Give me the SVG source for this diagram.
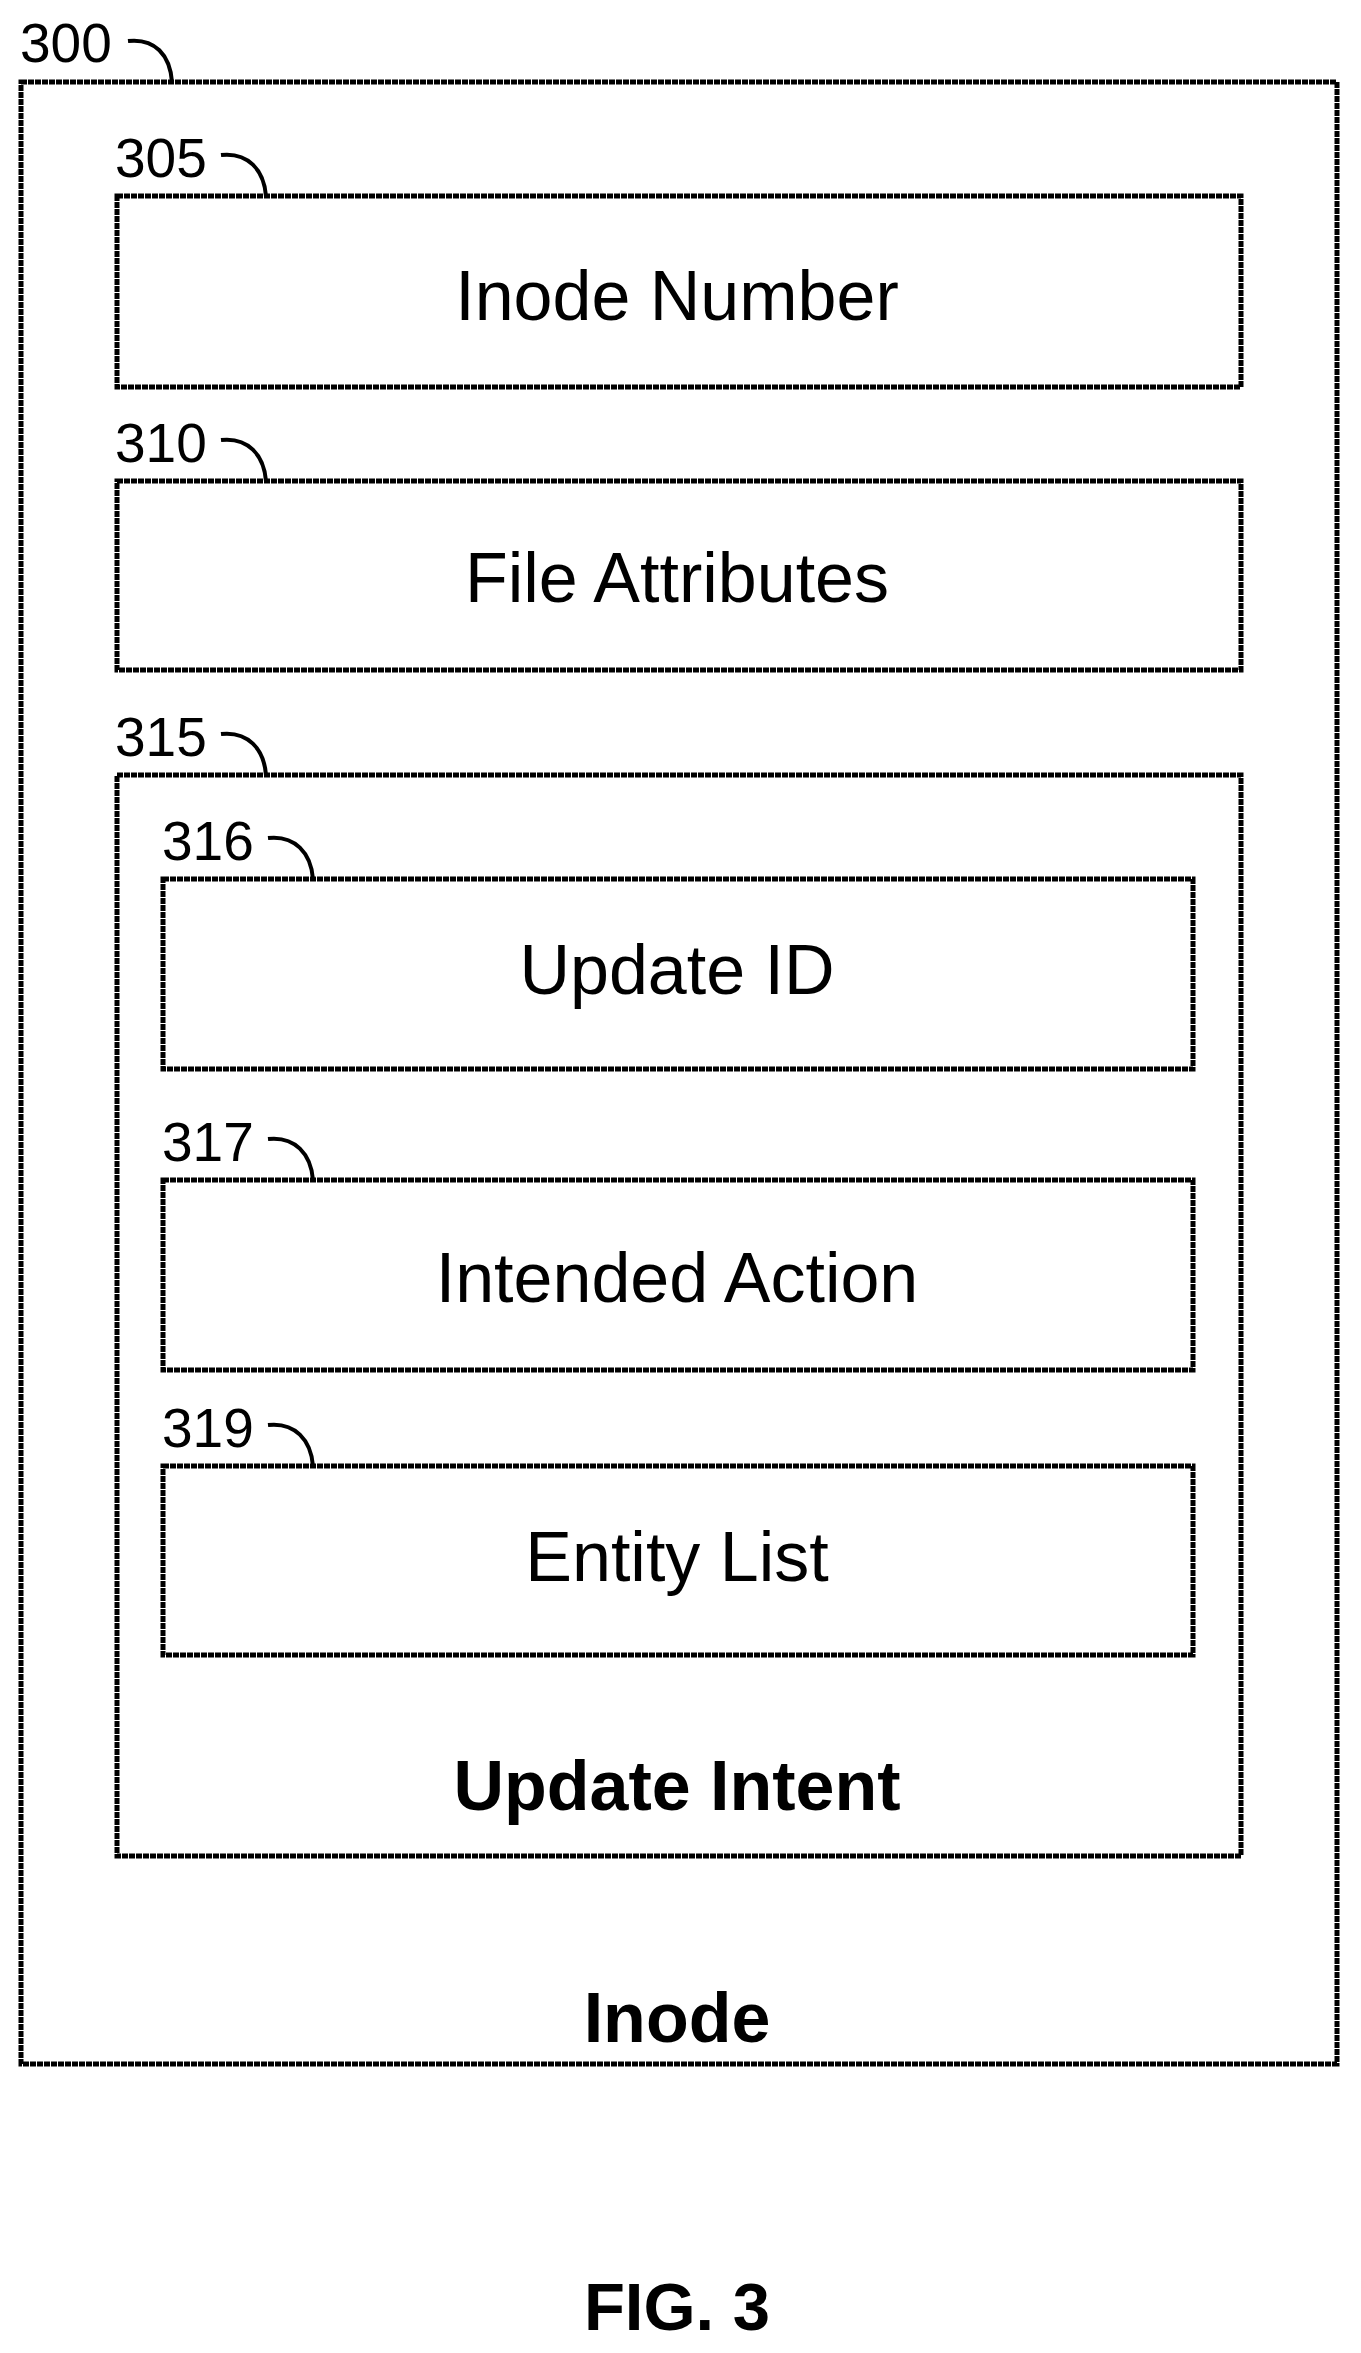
<svg xmlns="http://www.w3.org/2000/svg" width="1361" height="2353" viewBox="0 0 1361 2353">
<style>
.b{fill:none;stroke:#000;stroke-width:5;stroke-dasharray:6 1}
.t{font-family:"Liberation Sans",Arial,sans-serif;font-size:70px;text-anchor:middle;fill:#000}
.bt{font-family:"Liberation Sans",Arial,sans-serif;font-size:70px;font-weight:bold;text-anchor:middle;fill:#000}
.r{font-family:"Liberation Sans",Arial,sans-serif;font-size:55px;fill:#000}
.l{fill:none;stroke:#000;stroke-width:4}
</style>
<rect width="1361" height="2353" fill="#fff"/>
<g id="n300"><rect class="b" x="21" y="82" width="1316" height="1982"/><text class="bt" x="677" y="2042">Inode</text><text class="r" x="20" y="62">300</text></g>
<g id="n305"><rect class="b" x="117" y="196" width="1124" height="191"/><text class="t" x="677" y="320">Inode Number</text><text class="r" x="115" y="177">305</text></g>
<g id="n310"><rect class="b" x="117" y="481" width="1124" height="189"/><text class="t" x="677" y="602">File Attributes</text><text class="r" x="115" y="462">310</text></g>
<g id="n315"><rect class="b" x="117" y="775" width="1124" height="1081"/><text class="bt" x="677" y="1810">Update Intent</text><text class="r" x="115" y="756">315</text></g>
<g id="n316"><rect class="b" x="163" y="879" width="1030" height="190"/><text class="t" x="677" y="994">Update ID</text><text class="r" x="162" y="860">316</text></g>
<g id="n317"><rect class="b" x="163" y="1180" width="1030" height="190"/><text class="t" x="677" y="1302">Intended Action</text><text class="r" x="162" y="1161">317</text></g>
<g id="n319"><rect class="b" x="163" y="1466" width="1030" height="189"/><text class="t" x="677" y="1581">Entity List</text><text class="r" x="162" y="1447">319</text></g>
<g id="connectors">
<path class="l" d="M128,41 C155,38 170,55 172,82"/>
<path class="l" d="M221,155 C248,152 264,170 266,196"/>
<path class="l" d="M221,440 C248,437 264,455 266,481"/>
<path class="l" d="M221,734 C248,731 264,749 266,775"/>
<path class="l" d="M268,838 C295,835 311,853 313,879"/>
<path class="l" d="M268,1139 C295,1136 311,1154 313,1180"/>
<path class="l" d="M268,1425 C295,1422 311,1440 313,1466"/>
</g>
<text class="bt" x="677" y="2330" style="font-size:67px">FIG. 3</text>
</svg>
